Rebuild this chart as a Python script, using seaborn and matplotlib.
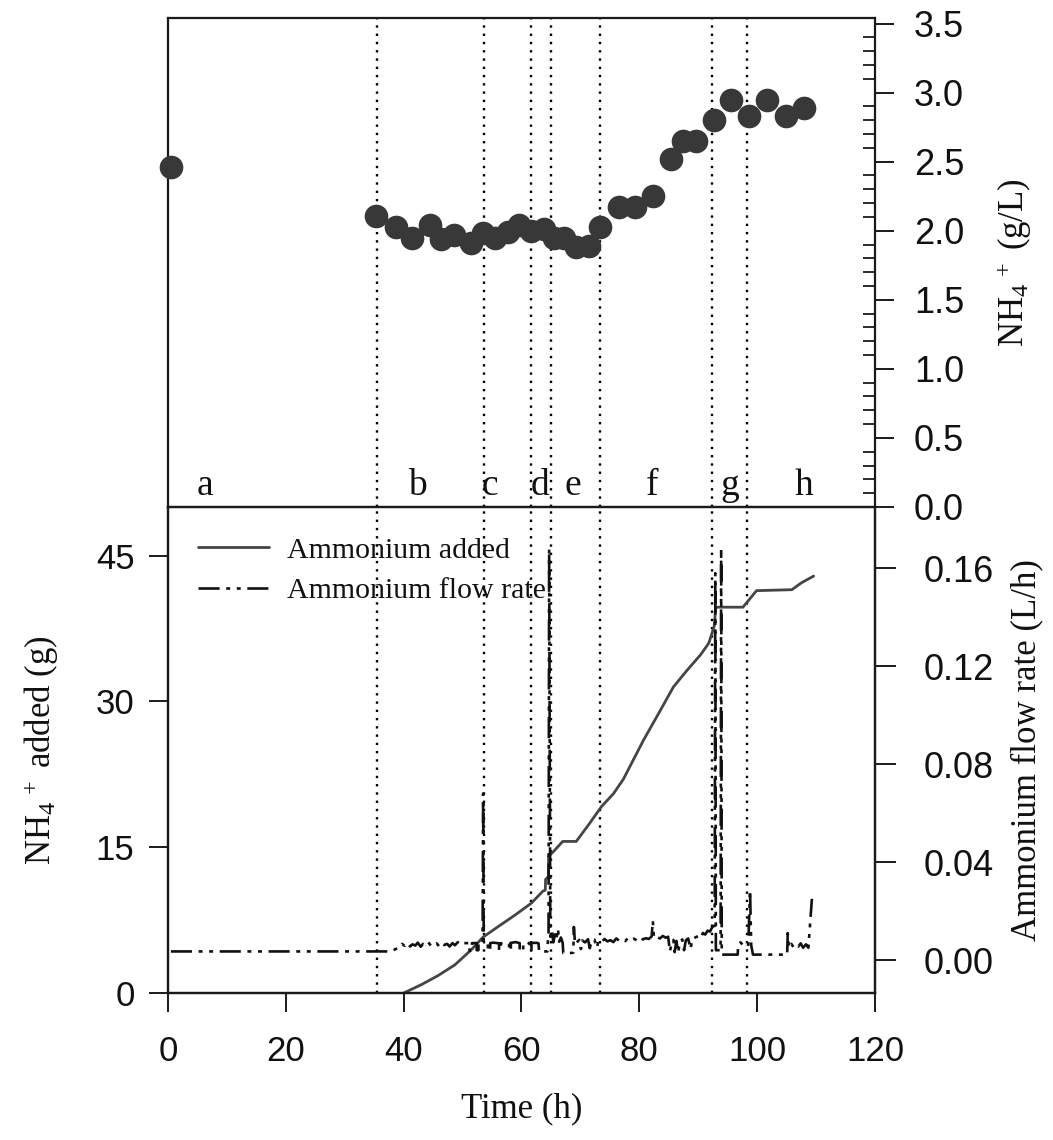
import matplotlib
matplotlib.use("Agg")
import matplotlib.pyplot as plt
import seaborn as sns
from matplotlib.ticker import MultipleLocator, FormatStrFormatter

# top panel: NH4+ concentration in broth (g/L)
nh4_time = [0.5, 35.25, 38.7, 41.5, 44.5, 46.4, 48.6, 51.4, 53.5, 55.5, 57.7,
            59.6, 61.6, 63.8, 65.55, 67.3, 69.3, 71.4, 73.4, 76.5, 79.3, 82.4,
            85.4, 87.5, 89.7, 92.7, 95.6, 98.6, 101.7, 104.9, 107.9]
nh4_conc = [2.46, 2.11, 2.03, 1.95, 2.04, 1.94, 1.97, 1.91, 1.98, 1.95, 1.99,
            2.04, 2.00, 2.01, 1.95, 1.95, 1.88, 1.89, 2.03, 2.17, 2.17, 2.25,
            2.52, 2.65, 2.65, 2.80, 2.95, 2.83, 2.95, 2.83, 2.89]

# phase boundaries and labels
phase_lines = [35.4, 53.7, 61.6, 65.0, 73.4, 92.3, 98.3]
phase_names = ["a", "b", "c", "d", "e", "f", "g", "h"]
phase_pos = [6.3, 42.4, 54.7, 63.1, 68.8, 82.2, 95.3, 107.9]

# bottom panel: cumulative ammonium added (g)
added_time = [40.0, 43.0, 45.8, 48.7, 51.5, 53.5, 56.1, 59.0, 61.7, 63.6, 64.05,
              64.1, 64.6, 64.6, 65.5, 67.0, 69.3, 71.5, 73.6, 75.6, 77.3, 80.7,
              83.5, 85.8, 88.1, 90.4, 91.8, 92.7, 93.0, 97.6, 99.9, 105.9, 107.5,
              109.6]
added_g = [0.0, 0.86, 1.78, 2.9, 4.46, 5.76, 6.86, 8.06, 9.26, 10.46, 10.6,
           11.7, 12.0, 14.06, 14.6, 15.6, 15.6, 17.4, 19.2, 20.5, 22.0, 26.0,
           29.0, 31.5, 33.2, 34.8, 36.0, 37.7, 39.7, 39.7, 41.4, 41.5, 42.2,
           42.9]

# bottom panel: ammonium flow rate (L/h)
flow_time = [0.5, 37.8,
             39.3, 39.7, 40.2, 40.6, 41.1, 41.5, 42.0, 42.4, 42.9, 43.3, 43.8,
             44.2, 44.7, 45.1, 45.6, 46.0, 46.5, 46.9, 47.4, 47.8, 48.3, 48.7,
             49.2, 49.6, 50.0,
             50.1, 51.2, 51.2, 51.6, 51.6, 52.4, 52.4, 52.7, 52.7, 53.4, 53.5,
             53.6, 54.3, 54.3, 54.7, 54.7, 55.2, 56.2, 56.2, 56.5, 56.5, 57.3,
             57.9, 57.9, 58.2, 58.2, 59.0, 59.7, 59.7, 60.3, 60.3, 61.0, 61.4,
             61.4, 61.7, 61.7, 62.6, 62.9, 63.0, 64.4, 64.5, 64.6, 64.7,
             64.9, 65.2, 65.4, 65.7, 65.9, 66.2, 66.4, 66.7, 67.0, 67.1, 68.2,
             68.8, 68.9, 69.1,
             69.3, 69.8, 70.1, 70.3, 70.8, 71.3, 71.6, 71.9, 72.4, 72.8, 73.1,
             73.6, 74.1, 74.6, 75.1, 75.6, 76.1, 76.6, 77.1, 77.6, 78.1, 78.6,
             79.1, 79.6, 80.1, 80.6, 81.1, 81.6, 82.1, 82.3, 82.5, 83.0, 83.5,
             84.0, 84.5, 84.9, 85.2, 85.5, 85.8, 86.0, 86.3, 86.6, 86.9, 87.3,
             87.6, 87.9, 88.3, 88.7, 89.0, 89.5, 90.0, 90.4, 90.8, 91.2, 91.6,
             92.0, 92.4, 92.8, 92.9, 93.0, 93.8, 93.9, 94.0, 96.7,
             96.8, 97.2, 97.6, 98.0, 98.5, 98.8, 99.0, 99.3, 105.1,
             105.2, 105.4, 105.8, 106.2, 106.6, 107.0, 107.4, 107.8, 108.3,
             108.7, 109.0, 109.3]
flow_rate = [0.0035, 0.0035,
             0.0052, 0.0066, 0.0058, 0.0070, 0.0055, 0.0064, 0.0059, 0.0071,
             0.0054, 0.0066, 0.0060, 0.0072, 0.0056, 0.0063, 0.0068, 0.0057,
             0.0070, 0.0061, 0.0066, 0.0055, 0.0069, 0.0060, 0.0073, 0.0064,
             0.0070,
             0.0069, 0.0069, 0.0038, 0.0038, 0.0069, 0.0069, 0.0040, 0.0040,
             0.0069, 0.0069, 0.0680, 0.0069, 0.0069, 0.0038, 0.0038, 0.0069,
             0.0071, 0.0068, 0.0040, 0.0040, 0.0068, 0.0072, 0.0066, 0.0039,
             0.0039, 0.0070, 0.0073, 0.0069, 0.0037, 0.0037, 0.0068, 0.0071,
             0.0067, 0.0040, 0.0040, 0.0070, 0.0070, 0.0068, 0.0035, 0.0035,
             0.0080, 0.0105, 0.1680,
             0.0095, 0.0120, 0.0072, 0.0105, 0.0080, 0.0128, 0.0075, 0.0092,
             0.0070, 0.0028, 0.0028, 0.0030, 0.0135, 0.0065,
             0.0070, 0.0082, 0.0045, 0.0080, 0.0072, 0.0085, 0.0048, 0.0078,
             0.0083, 0.0050, 0.0080, 0.0074, 0.0086, 0.0076, 0.0081, 0.0073,
             0.0088, 0.0079, 0.0084, 0.0077, 0.0090, 0.0082, 0.0087, 0.0080,
             0.0092, 0.0084, 0.0089, 0.0086, 0.0096, 0.0160, 0.0090, 0.0094,
             0.0088, 0.0098, 0.0091, 0.0095, 0.0035, 0.0070, 0.0082, 0.0032,
             0.0078, 0.0030, 0.0075, 0.0084, 0.0040, 0.0080, 0.0088, 0.0045,
             0.0086, 0.0092, 0.0098, 0.0090, 0.0110, 0.0104, 0.0120, 0.0116,
             0.0135, 0.0140, 0.1580, 0.0040, 0.0040, 0.1680, 0.0022, 0.0022,
             0.0065, 0.0072, 0.0060, 0.0070, 0.0062, 0.0285, 0.0060, 0.0022,
             0.0022,
             0.0110, 0.0050, 0.0066, 0.0052, 0.0062, 0.0055, 0.0068, 0.0050,
             0.0064, 0.0050, 0.0150, 0.0250]

sns.set_theme(style="ticks")
plt.rcParams['font.family'] = ['Liberation Sans', 'DejaVu Sans']
plt.rcParams['mathtext.fontset'] = 'custom'
plt.rcParams['mathtext.rm'] = 'Liberation Serif'
plt.rcParams['mathtext.it'] = 'Liberation Serif:italic'
plt.rcParams['mathtext.default'] = 'rm'
plt.rcParams['axes.linewidth'] = 1.6
plt.rcParams['axes.edgecolor'] = '#1a1a1a'
plt.rcParams['text.color'] = '#111111'
plt.rcParams['axes.labelcolor'] = '#111111'

serif = 'Liberation Serif'
tick_fs = 25
lab_fs = 25

fig = plt.figure(figsize=(10.53, 11.4), dpi=100)
ax_top = fig.add_axes([0.1595, 0.5553, 0.6714, 0.4289])
ax = fig.add_axes([0.1595, 0.1289, 0.6714, 0.4263])
ax2 = ax.twinx()

# ---- top panel
sns.scatterplot(x=nh4_time, y=nh4_conc, ax=ax_top, s=290, color='#383838',
                edgecolor='#383838', linewidth=0, clip_on=False, zorder=5)
ax_top.set_xlim(0, 120)
ax_top.set_ylim(0, 3.54)
ax_top.set_xticks([])
ax_top.yaxis.tick_right()
ax_top.yaxis.set_label_position('right')
ax_top.yaxis.set_major_locator(MultipleLocator(0.5))
ax_top.yaxis.set_minor_locator(MultipleLocator(0.1))
ax_top.yaxis.set_major_formatter(FormatStrFormatter('%.1f'))
ax_top.tick_params(axis='y', which='major', direction='out', length=14, width=1.4,
                   labelsize=26, pad=14, colors='#1a1a1a', labelcolor='#111111')
ax_top.tick_params(axis='y', which='minor', direction='in', length=9, width=1.3,
                   colors='#1a1a1a')
ax_top.spines['bottom'].set_visible(False)
ax_top.set_ylabel('NH$_4$$^{\\,+}$ (g/L)', fontfamily=serif, fontsize=lab_fs,
                  rotation=90, labelpad=22)
for x in phase_lines:
    ax_top.axvline(x, color='black', ls=(0, (1, 2.5)), lw=1.7, zorder=1)
for name, x in zip(phase_names, phase_pos):
    ax_top.text(x, 0.085, name, fontfamily=serif, fontsize=27,
                ha='center', va='baseline')

# ---- bottom panel
for x in phase_lines:
    ax.axvline(x, color='black', ls=(0, (1, 2.5)), lw=1.7, zorder=1)
sns.lineplot(x=added_time, y=added_g, ax=ax, estimator=None, sort=False,
             color='#454545', lw=2.0, label='Ammonium added', legend=False)
sns.lineplot(x=flow_time, y=flow_rate, ax=ax2, estimator=None, sort=False,
             color='#111111', lw=1.9,
             linestyle=(0, (8, 2.5, 1.5, 2.5, 1.5, 2.5)),
             label='Ammonium flow rate', legend=False)

ax.set_xlim(0, 120)
ax.set_ylim(0, 50)
ax.set_xticks(range(0, 121, 20))
ax.set_yticks([0, 15, 30, 45])
ax.tick_params(axis='both', direction='out', length=14, width=1.4,
               labelsize=tick_fs, colors='#1a1a1a', labelcolor='#111111')
ax.tick_params(axis='x', pad=16)
ax.tick_params(axis='y', pad=10)
ax.set_xlabel('Time (h)', fontfamily=serif, fontsize=lab_fs, labelpad=18)
ax.set_ylabel('NH$_4$$^{\\,+}$ added (g)', fontfamily=serif, fontsize=lab_fs,
              labelpad=25)

ax2.set_ylim(-0.0135, 0.185)
ax2.set_yticks([0.0, 0.04, 0.08, 0.12, 0.16])
ax2.yaxis.set_major_formatter(FormatStrFormatter('%.2f'))
ax2.tick_params(axis='y', direction='out', length=15, width=1.4,
                labelsize=26, pad=20, colors='#1a1a1a', labelcolor='#111111')
ax2.set_ylabel('Ammonium flow rate (L/h)', fontfamily=serif, fontsize=lab_fs,
               rotation=90, labelpad=12)

handles = ax.get_lines()[-1:] + ax2.get_lines()[-1:]
leg = ax2.legend(handles, ['Ammonium added', 'Ammonium flow rate'],
                 loc='upper left', bbox_to_anchor=(0.0, 1.0), frameon=False,
                 prop={'family': serif, 'size': 21.5}, handlelength=2.4,
                 handletextpad=0.6, labelspacing=0.45, borderaxespad=0.6)

fig.savefig('out.png', dpi=100)
